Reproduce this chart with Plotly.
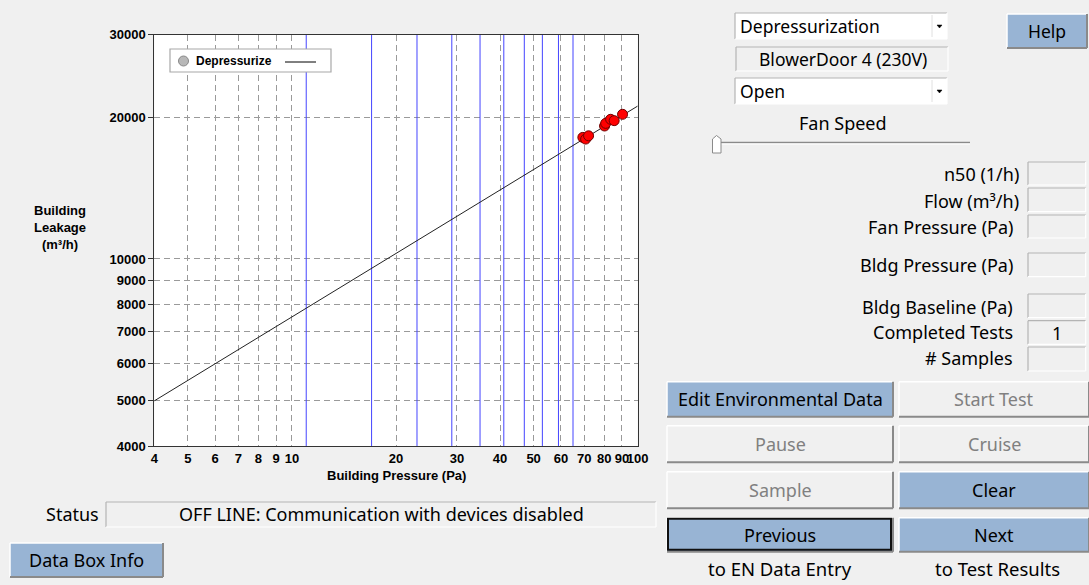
import plotly.graph_objects as go

# ---------------- data ----------------
x_ticks = [4, 5, 6, 7, 8, 9, 10, 20, 30, 40, 50, 60, 70, 80, 90, 100]
y_ticks = [4000, 5000, 6000, 7000, 8000, 9000, 10000, 20000, 30000]
pressure_pa = [69.4, 70.7, 72.1, 80.2, 80.8, 83.5, 85.5, 90.4]
leakage_m3h = [18140, 17990, 18280, 19180, 19430, 19820, 19690, 20310]
fit_x = [4, 100]
fit_y = [4990, 21150]
blue_lines_x = [11, 17, 23, 29, 35, 41, 47, 53, 59, 65]

W, H = 1089, 585
BG = "#f0f0f0"
BLUE_BTN = "#98b4d4"
UI_FONT = "Noto Sans"
PLOT_FONT = "Liberation Sans"


def px(x):
    return x / W


def py(y):
    return 1 - y / H


fig = go.Figure()

# blue vertical marker lines (one trace per line)
for v in blue_lines_x:
    fig.add_trace(go.Scatter(x=[v, v], y=[4000, 30000], mode="lines",
                             line=dict(color="#4444ff", width=1),
                             hoverinfo="skip", showlegend=False))
# fit line
fig.add_trace(go.Scatter(x=fit_x, y=fit_y, mode="lines",
                         line=dict(color="#222222", width=1),
                         showlegend=False))
# points
fig.add_trace(go.Scatter(x=pressure_pa, y=leakage_m3h, mode="markers",
                         marker=dict(color="#ff0000", size=10,
                                     line=dict(color="#700000", width=1)),
                         name="Depressurize", showlegend=False))

axis_common = dict(type="log", showgrid=True, gridcolor="#9a9a9a",
                   griddash="6px,4px", gridwidth=1,
                   showline=True, linecolor="#333333", linewidth=1, mirror=True,
                   tickfont=dict(family=PLOT_FONT, size=13, color="#000",
                                 weight="bold"),
                   zeroline=False, automargin=False)

fig.update_layout(
    template="plotly",
    width=W, height=H,
    margin=dict(l=0, r=0, t=0, b=0, pad=0, autoexpand=False),
    paper_bgcolor=BG, plot_bgcolor="#ffffff",
    showlegend=False,
    xaxis=dict(axis_common, range=[0.60206, 2.0],
               domain=[px(154.3), px(637.7)],
               tickvals=x_ticks, ticktext=[str(v) for v in x_ticks],
               ticks="", tickangle=0),
    yaxis=dict(axis_common, range=[3.60206, 4.4771],
               domain=[py(446), py(34.7)],
               tickvals=y_ticks, ticktext=[str(v) for v in y_ticks],
               ticks="outside", ticklen=5, tickcolor="#333333"),
)

shapes = []
ann = []


def text(x, y, s, size=18, color="#000", xanchor="center", family=UI_FONT,
         weight="normal"):
    ann.append(dict(x=px(x), y=py(y), xref="paper", yref="paper", text=s,
                    showarrow=False, xanchor=xanchor, yanchor="middle",
                    font=dict(family=family, size=size, color=color,
                              weight=weight)))


def rect(x0, y0, x1, y1, fill, line=None, lw=1):
    shapes.append(dict(type="rect", xref="paper", yref="paper",
                       x0=px(x0), x1=px(x1), y0=py(y1), y1=py(y0),
                       fillcolor=fill,
                       line=dict(color=line or fill, width=lw if line else 0)))


def seg(x0, y0, x1, y1, color, lw=1):
    shapes.append(dict(type="line", xref="paper", yref="paper",
                       x0=px(x0), x1=px(x1), y0=py(y0), y1=py(y1),
                       line=dict(color=color, width=lw)))


def button(x0, y0, x1, y1, label, style, size=18):
    fill = BLUE_BTN if style in ("blue", "focus") else BG
    rect(x0, y0, x1, y1, fill)
    seg(x0, y0, x1, y0, "#ffffff", 1.5)
    seg(x0, y0, x0, y1, "#ffffff", 1.5)
    seg(x0, y1, x1, y1, "#8a8a8a", 2)
    seg(x1, y0, x1, y1, "#8a8a8a", 2)
    if style == "focus":
        rect(x0 + 1, y0 + 1, x1 - 2, y1 - 2, "rgba(0,0,0,0)", "#111111", 2)
    color = "#808080" if style == "disabled" else "#000000"
    text((x0 + x1) / 2, (y0 + y1) / 2, label, size, color)


def sunken(x0, y0, x1, y1, fill=BG):
    rect(x0, y0, x1, y1, fill)
    seg(x0, y0, x1, y0, "#b4b4b4", 1.2)
    seg(x0, y0, x0, y1, "#b4b4b4", 1.2)
    seg(x0, y1, x1, y1, "#ffffff", 1.2)
    seg(x1, y0, x1, y1, "#ffffff", 1.2)


# axis titles
text(60, 228, "Building<br>Leakage<br>(m³/h)", 13, family=PLOT_FONT,
     weight="bold")
text(396, 475, "Building Pressure (Pa)", 13, family=PLOT_FONT, weight="bold")

# legend
rect(170, 49, 331, 72, "#ffffff", "#a8a8a8", 1.2)
shapes.append(dict(type="circle", xref="paper", yref="paper",
                   x0=px(178.5), x1=px(188.5), y0=py(66), y1=py(56),
                   fillcolor="#b8b8b8", line=dict(color="#888888", width=1)))
text(194, 61, "Depressurize", 12, xanchor="left", family=PLOT_FONT,
     weight="bold")
seg(285, 62, 316, 62, "#000000", 1)

# status row
text(72, 514, "Status", 18)
sunken(106, 502, 656, 527)
text(381, 514, "OFF LINE: Communication with devices disabled", 18)
button(10, 543, 163, 577, "Data Box Info", "blue")

# dropdowns & device box
for (y0, y1, label) in [(13, 39, "Depressurization"), (78, 104, "Open")]:
    sunken(735, y0, 947, y1, "#ffffff")
    text(738, (y0 + y1) / 2, label, 17.5, xanchor="left")
    seg(932, y0 + 2, 932, y1 - 2, "#e0e0e0", 1)
    cy = (y0 + y1) / 2
    shapes.append(dict(type="path", xref="paper", yref="paper",
                       path=f"M {px(937)} {py(cy-1)} L {px(942)} {py(cy-1)} "
                            f"L {px(939.5)} {py(cy+2)} Z",
                       fillcolor="#000000", line=dict(color="#000", width=0.5)))
sunken(736, 47, 948, 71)
text(843, 59, "BlowerDoor 4 (230V)", 17.5)
text(842.5, 122.5, "Fan Speed", 18)

# slider
seg(716, 142.5, 970, 142.5, "#8a8a8a", 1.5)
seg(716, 144, 970, 144, "#ffffff", 1)
shapes.append(dict(type="path", xref="paper", yref="paper",
                   path=f"M {px(712.5)} {py(153)} L {px(712.5)} {py(139)} "
                        f"L {px(716.5)} {py(135.5)} L {px(721)} {py(139)} "
                        f"L {px(721)} {py(153)} Z",
                   fillcolor="#ffffff", line=dict(color="#8a8a8a", width=1)))

button(1007, 14, 1087, 48, "Help", "blue", 17.5)

# readouts
readouts = [
    ("n50 (1/h)", 1021, 174.3, 162, 185, ""),
    ("Flow (m³/h)", 1021, 200.7, 188, 211.7, ""),
    ("Fan Pressure (Pa)", 1015, 226.7, 215, 238, ""),
    ("Bldg Pressure (Pa)", 1015, 265, 253, 276.7, ""),
    ("Bldg Baseline (Pa)", 1015, 306.7, 294, 317.7, ""),
    ("Completed Tests", 1015, 332.3, 320.7, 344.3, "1"),
    ("# Samples", 1015, 358.3, 347, 371, ""),
]
for label, xr, yc, b0, b1, val in readouts:
    text(xr, yc, label, 18, xanchor="right")
    sunken(1028, b0, 1085.7, b1)
    if val:
        text(1057, (b0 + b1) / 2, val, 18)

# buttons
button(667, 381.7, 893, 416.7, "Edit Environmental Data", "blue")
button(899, 381.7, 1089, 416.7, "Start Test", "disabled")
button(667, 425.7, 893, 462.3, "Pause", "disabled")
button(899, 425.7, 1089, 462.3, "Cruise", "disabled")
button(667, 471.7, 893, 508.3, "Sample", "disabled")
button(899, 471.7, 1089, 508.3, "Clear", "blue")
button(667, 517.7, 893, 551.7, "Previous", "focus")
button(899, 517.7, 1089, 551.7, "Next", "blue")
text(780, 568, "to EN Data Entry", 18.5)
text(997, 568, "to Test Results", 18.5)

fig.update_layout(shapes=shapes, annotations=ann)
fig.write_html(
    "out.html",
    config={"displayModeBar": False},
    post_script="document.body.style.margin='0';"
                "document.body.style.padding='0';"
                "document.body.style.overflow='hidden';"
                "document.body.style.background='#f0f0f0';",
)
